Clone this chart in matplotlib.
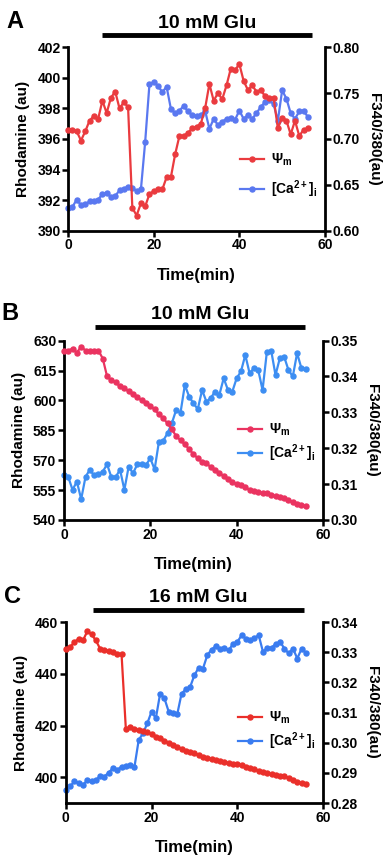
import numpy as np
import matplotlib
matplotlib.use('Agg')
import matplotlib.pyplot as plt

plt.rcParams['font.family'] = ['Liberation Sans', 'DejaVu Sans']
plt.rcParams['font.weight'] = 'bold'
plt.rcParams['mathtext.fontset'] = 'custom'
plt.rcParams['mathtext.rm'] = 'Liberation Sans:bold'
plt.rcParams['mathtext.bf'] = 'Liberation Sans:bold'
plt.rcParams['mathtext.it'] = 'Liberation Sans:bold'

# ---- data ----
t = np.arange(57)

# panel A
a_psi = [396.6, 396.6, 396.5, 395.9, 396.5, 397.2, 397.5, 397.3, 398.5, 397.7,
         398.7, 399.1, 398.0, 398.4, 398.1, 391.5, 391.0, 391.8, 391.6, 392.4,
         392.6, 392.7, 392.7, 393.5, 393.5, 395.0, 396.2, 396.2, 396.4, 396.7,
         396.8, 397.0, 398.0, 399.6, 398.5, 399.0, 398.6, 399.5, 400.6, 400.5,
         400.9, 399.8, 399.2, 399.5, 399.1, 399.2, 398.8, 398.7, 398.7, 396.7,
         397.4, 397.2, 396.3, 397.2, 396.2, 396.6, 396.7]
a_ca = [0.625, 0.626, 0.634, 0.628, 0.629, 0.632, 0.633, 0.634, 0.640, 0.641,
        0.637, 0.638, 0.644, 0.646, 0.648, 0.647, 0.643, 0.645, 0.697, 0.760,
        0.762, 0.758, 0.751, 0.757, 0.733, 0.728, 0.731, 0.736, 0.730, 0.726,
        0.725, 0.726, 0.731, 0.711, 0.722, 0.715, 0.719, 0.722, 0.723, 0.721,
        0.731, 0.722, 0.726, 0.722, 0.728, 0.735, 0.740, 0.742, 0.738, 0.720,
        0.753, 0.744, 0.728, 0.722, 0.730, 0.731, 0.724]

# panel B
b_psi = [625, 625, 626, 624, 627, 625, 625, 625, 625, 621,
         612, 610, 609, 607, 606, 604.5, 603, 601.5, 600, 598.5,
         597, 595.5, 593, 591, 588.5, 585.5, 582, 580, 578, 575.5,
         573, 571, 569, 568.5, 566.5, 565, 563.5, 562, 560.5, 559,
         558, 557.5, 556.5, 555, 554.5, 554, 553.5, 553.5, 552.5, 552,
         551.5, 551, 550, 549, 548, 547.5, 547]
b_ca = [0.3125, 0.3120, 0.3084, 0.3107, 0.3058, 0.3120, 0.3140, 0.3124, 0.3128, 0.3135,
        0.3155, 0.3119, 0.3120, 0.3140, 0.3084, 0.3149, 0.3130, 0.3155, 0.3155, 0.3153,
        0.3172, 0.3141, 0.3218, 0.3221, 0.3242, 0.3270, 0.3307, 0.3299, 0.3376, 0.3344,
        0.3325, 0.3309, 0.3362, 0.3330, 0.3340, 0.3358, 0.3349, 0.3395, 0.3362, 0.3358,
        0.3395, 0.3414, 0.3460, 0.3409, 0.3423, 0.3418, 0.3362, 0.3469, 0.3472, 0.3404,
        0.3451, 0.3455, 0.3418, 0.3400, 0.3465, 0.3423, 0.3420]

# panel C
c_psi = [449.7, 450.3, 452.3, 453.5, 452.9, 456.4, 455.2, 452.9, 449.7, 449.3,
         448.8, 448.4, 447.7, 447.5, 418.7, 419.4, 418.7, 418.1, 417.7, 417.4,
         416.8, 415.7, 415.0, 414.2, 413.4, 412.6, 411.8, 411.0, 410.3, 409.7,
         409.3, 408.6, 408.0, 407.5, 407.0, 406.6, 406.1, 405.8, 405.4, 405.2,
         405.2, 404.6, 404.0, 403.6, 403.2, 402.6, 402.0, 401.6, 401.2, 400.8,
         400.6, 400.4, 399.8, 399.0, 398.2, 397.6, 397.4]
c_ca = [0.2844, 0.2855, 0.2872, 0.2868, 0.2861, 0.2875, 0.2872, 0.2875, 0.2890, 0.2888,
        0.2901, 0.2916, 0.2910, 0.2921, 0.2923, 0.2927, 0.2919, 0.3009, 0.3031, 0.3064,
        0.3103, 0.3081, 0.3163, 0.3147, 0.3103, 0.3097, 0.3095, 0.3163, 0.3177, 0.3185,
        0.3224, 0.3249, 0.3246, 0.3290, 0.3309, 0.3320, 0.3312, 0.3315, 0.3306, 0.3328,
        0.3334, 0.3356, 0.3345, 0.3340, 0.3348, 0.3356, 0.3301, 0.3315, 0.3315, 0.3328,
        0.3334, 0.3312, 0.3296, 0.3312, 0.3279, 0.3312, 0.3298]

panels = [
    dict(letter='A', title='10 mM Glu', psi=a_psi, ca=a_ca,
         ylim=(390, 402), yticks=[390, 392, 394, 396, 398, 400, 402],
         y2lim=(0.60, 0.80), y2ticks=[0.60, 0.65, 0.70, 0.75, 0.80],
         red='#ea3b3f', blue='#5a78f0', bar=(8, 57), bary=1.065,
         rect=[0.177, 0.731, 0.667, 0.214], legy=0.30, legsp=0.75),
    dict(letter='B', title='10 mM Glu', psi=b_psi, ca=b_ca,
         ylim=(540, 630), yticks=[540, 555, 570, 585, 600, 615, 630],
         y2lim=(0.30, 0.35), y2ticks=[0.30, 0.31, 0.32, 0.33, 0.34, 0.35],
         red='#ea3360', blue='#3d8ef2', bar=(7.2, 55.8), bary=1.078,
         rect=[0.166, 0.394, 0.673, 0.209], legy=0.43, legsp=0.35),
    dict(letter='C', title='16 mM Glu', psi=c_psi, ca=c_ca,
         ylim=(390, 460), yticks=[400, 420, 440, 460],
         y2lim=(0.28, 0.34), y2ticks=[0.28, 0.29, 0.30, 0.31, 0.32, 0.33, 0.34],
         red='#ea2f2a', blue='#3a7cf0', bar=(6.3, 55.6), bary=1.066,
         rect=[0.171, 0.064, 0.668, 0.211], legy=0.40, legsp=0.3),
]

fig = plt.figure(figsize=(3.85, 8.58), dpi=100)

for p in panels:
    ax = fig.add_axes(p['rect'])
    ax2 = ax.twinx()
    l1, = ax.plot(t, p['psi'], '-o', color=p['red'], lw=1.6, ms=3.6,
                  label=r'$\Psi_{m}$', clip_on=False, zorder=3)
    l2, = ax2.plot(t, p['ca'], '-o', color=p['blue'], lw=1.6, ms=3.6,
                   label=r'[Ca$^{2+}$]$_{i}$', clip_on=False)
    ax.set_zorder(ax2.get_zorder() + 1)
    ax.patch.set_visible(False)

    ax.set_xlim(0, 60)
    ax.set_xticks([0, 20, 40, 60])
    ax.set_ylim(*p['ylim'])
    ax.set_yticks(p['yticks'])
    ax2.set_ylim(*p['y2lim'])
    ax2.set_yticks(p['y2ticks'])
    ax2.yaxis.set_major_formatter(matplotlib.ticker.FormatStrFormatter('%.2f'))

    for a in (ax, ax2):
        for s in ('left', 'right', 'bottom'):
            a.spines[s].set_linewidth(2)
        a.spines['top'].set_visible(False)
        a.tick_params(width=1.8, length=4, labelsize=10, pad=1.5)
    ax.spines['right'].set_visible(False)
    ax2.spines['left'].set_visible(False)
    ax2.spines['bottom'].set_visible(False)

    ax.set_xlabel('Time(min)', fontsize=12, fontweight='bold', labelpad=11)
    ax.set_ylabel('Rhodamine (au)', fontsize=11, fontweight='bold', labelpad=5)
    ax2.set_ylabel('F340/380(au)', fontsize=11, fontweight='bold', rotation=270, labelpad=15)

    # glutamate bar
    trans = matplotlib.transforms.blended_transform_factory(ax.transData, ax.transAxes)
    ax.plot(p['bar'], [p['bary'], p['bary']], color='black', lw=3.5,
            transform=trans, clip_on=False, solid_capstyle='butt')
    ax.text(sum(p['bar']) / 2, p['bary'] + 0.02, p['title'], transform=trans,
            ha='center', va='bottom', fontsize=14, fontweight='bold')
    ax.text(-0.24, p['bary'] + 0.01, p['letter'], transform=ax.transAxes,
            ha='left', va='bottom', fontsize=17, fontweight='bold')

    ax.legend(handles=[l1, l2], loc='center right', bbox_to_anchor=(0.99, p['legy']),
              frameon=False, fontsize=10, handlelength=1.7, handletextpad=0.5,
              labelspacing=p['legsp'], borderaxespad=0)

fig.savefig('out.png', dpi=100)
